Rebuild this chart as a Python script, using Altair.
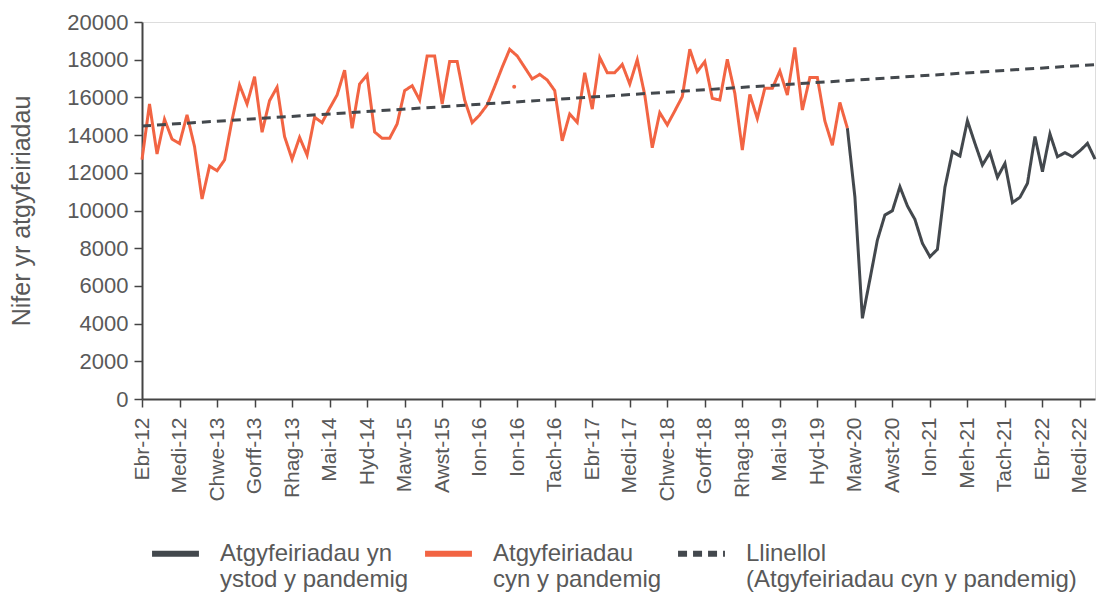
import json
import altair as alt
import pandas as pd

# ---- data ----
month_labels = ["Ebr-12", "Medi-12", "Chwe-13", "Gorff-13", "Rhag-13", "Mai-14", "Hyd-14",
                "Maw-15", "Awst-15", "Ion-16", "Ion-16", "Tach-16", "Ebr-17", "Medi-17",
                "Chwe-18", "Gorff-18", "Rhag-18", "Mai-19", "Hyd-19", "Maw-20", "Awst-20",
                "Ion-21", "Meh-21", "Tach-21", "Ebr-22", "Medi-22"]

# monthly referrals, Apr 2012 (index 0) .. Feb 2020 (index 94)
pre_pandemic = [12700, 15650, 13000, 14840, 13790, 13550, 15070, 13390, 10610, 12360,
                12110, 12680, 14800, 16660, 15650, 17100, 14150, 15830, 16540, 13920,
                12720, 13880, 12940, 14950, 14660, 15420, 16130, 17450, 14360, 16710,
                17190, 14170, 13830, 13830, 14590, 16360, 16620, 15860, 18200, 18200,
                15650, 17900, 17900, 15860, 14660, 15070, 15600, 16580, 17600, 18550,
                18200, 17590, 16980, 17220, 16920, 16360, 13700, 15120, 14680, 17310,
                15380, 18120, 17310, 17310, 17750, 16710, 18000, 16130, 13330, 15190,
                14540, 15280, 16040, 18550, 17370, 17900, 15950, 15860, 18020, 16220,
                13210, 16160, 14880, 16480, 16480, 17400, 16130, 18650, 15330, 17050,
                17050, 14750, 13460, 15730, 14370]
pre_start = 0

# monthly referrals, Feb 2020 (index 94) .. Nov 2022 (index 127)
pandemic = [14370, 10730, 4280, 6340, 8430, 9760, 9990, 11260, 10240, 9530,
            8260, 7550, 7940, 11230, 13120, 12890, 14760, 13560, 12410, 13070,
            11760, 12500, 10420, 10700, 11440, 13920, 12060, 14060, 12850, 13070,
            12850, 13170, 13560, 12730]
pandemic_start = 94

# linear trend of the pre-pandemic referrals (end points)
trend_idx = [0, 127]
trend_values = [14480, 17740]

# isolated marker seen in the reference
stray_idx = [49.6]
stray_values = [16570]

series_names = ["Atgyfeiriadau yn|ystod y pandemig",
                "Atgyfeiriadau|cyn y pandemig",
                "Llinellol|(Atgyfeiriadau cyn y pandemig)"]

RED = "#F26443"
DARK = "#43484D"
TEXT = "#595959"
AXIS = "#444444"

rows = []
for i, v in enumerate(pandemic):
    rows.append({"idx": pandemic_start + i, "value": v, "series": series_names[0]})
for i, v in enumerate(pre_pandemic):
    rows.append({"idx": pre_start + i, "value": v, "series": series_names[1]})
for i, v in zip(trend_idx, trend_values):
    rows.append({"idx": i, "value": v, "series": series_names[2]})
df = pd.DataFrame(rows)
stray_df = pd.DataFrame({"idx": stray_idx, "value": stray_values})

label_expr = f"{json.dumps(month_labels)}[round(datum.value / 5)]"

legend = alt.Legend(
    title=None, orient="none", legendX=7, legendY=505, direction="horizontal",
    columns=3, symbolType="stroke", symbolSize=2200, symbolStrokeWidth=6,
    labelFontSize=24, labelColor=TEXT, labelLimit=600, labelOffset=18,
    columnPadding=4, labelExpr="split(datum.label, '|')",
)

x_ticks = list(range(0, 126, 5))
y_ticks = list(range(0, 20001, 2000))

x = alt.X("idx:Q",
          scale=alt.Scale(domain=[0, 127], nice=False, zero=False),
          axis=alt.Axis(values=x_ticks, tickCount=len(x_ticks) + 5, labelExpr=label_expr,
                        labelAngle=-90, labelFontSize=21, labelPadding=10,
                        labelOverlap=False, labelFlush=False,
                        tickSize=8, grid=False, title=None))
y = alt.Y("value:Q",
          scale=alt.Scale(domain=[0, 20000], nice=False),
          axis=alt.Axis(values=y_ticks, tickCount=len(y_ticks) + 5, grid=False, tickSize=8,
                        labelFontSize=22, labelPadding=6, format="d",
                        labelOverlap=False, labelFlush=False,
                        title="Nifer yr atgyfeiriadau", titleFontSize=25,
                        titleFontWeight="normal", titleColor=TEXT, titlePadding=32))

lines = alt.Chart(df).mark_line(strokeWidth=3).encode(
    x=x, y=y,
    color=alt.Color("series:N", scale=alt.Scale(domain=series_names, range=[DARK, RED, DARK]),
                    legend=legend),
    strokeDash=alt.StrokeDash("series:N",
                              scale=alt.Scale(domain=series_names, range=[[1, 0], [1, 0], [9, 6]]),
                              legend=legend),
    order="idx:Q",
)

stray = alt.Chart(stray_df).mark_circle(color=RED, size=16, opacity=1).encode(
    x="idx:Q", y="value:Q")

chart = alt.layer(lines, stray).properties(
    width=953, height=377,
    autosize=alt.AutoSizeParams(type="none"),
    padding={"left": 134, "top": 14, "right": 8, "bottom": 196},
).configure_view(stroke=None).configure(font="Liberation Sans").configure_axis(
    labelColor=TEXT, domainColor=AXIS, tickColor=AXIS, domainWidth=2, tickWidth=1.5,
    labelFont="Liberation Sans",
)

chart.save("out.html", embed_options={"renderer": "svg", "actions": False})
